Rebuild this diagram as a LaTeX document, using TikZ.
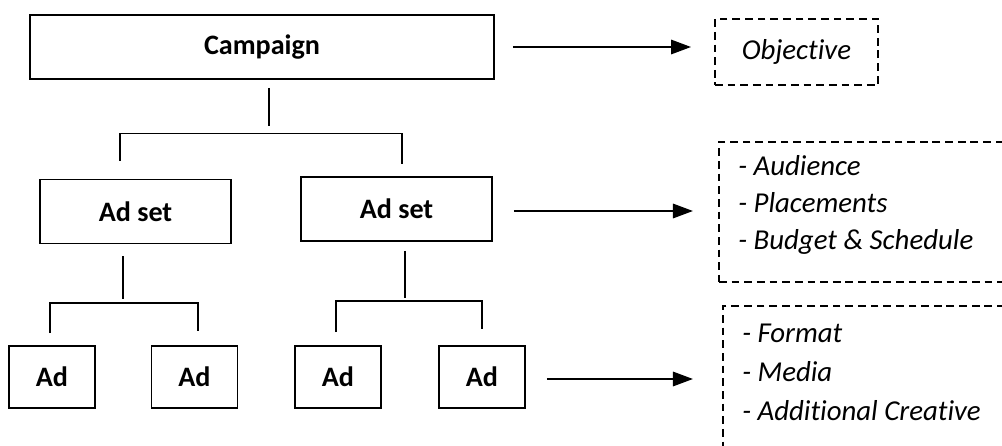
\documentclass[tikz,border=0pt]{standalone}
\usepackage{fontspec}
\setmainfont[Ligatures={NoCommon}]{Carlito}
\usetikzlibrary{arrows.meta}

\tikzset{
  blk/.style={draw, line width=1.3pt, inner sep=0pt, font=\bfseries\fontsize{20}{24}\selectfont},
  adbox/.style={blk, minimum width=2.15cm, minimum height=1.55cm},
  setbox/.style={blk, minimum width=4.775cm, minimum height=1.6cm},
  tree/.style={line width=1.2pt},
  arr/.style={line width=1.3pt, -{Triangle[length=0.5cm,width=0.36cm]}},
  dashbox/.style={draw, dash pattern=on 5.5pt off 3.5pt, line width=1.3pt, inner sep=0pt},
  item/.style={inner sep=0pt, anchor=base west, font=\itshape\fontsize{20.5}{24}\selectfont},
}

\begin{document}
\begin{tikzpicture}[x=0.025cm, y=-0.025cm]
        \useasboundingbox (0,0) rectangle (1002,446);
        \clip (0,0) rectangle (1002,446);
        %
        \node[blk, minimum width=11.6cm, minimum height=1.6cm] (campaign) at (262,47) {Campaign};
        \node[setbox] (setA) at (135.5,211.5) {Ad set};
        \node[setbox] (setB) at (396.5,209) {Ad set};
        %
        \node[adbox] (adA1) at (52,377) {Ad};
        \node[adbox] (adA2) at (194.5,377) {Ad};
        \node[adbox] (adB1) at (338,377) {Ad};
        \node[adbox] (adB2) at (482,377) {Ad};
        %
        \draw[tree] (campaign.south) ++(7,8) -- ++(0,38);
        \draw[tree] (setA.north) ++(-15.5,-18) -- ++(0,-27) -| ([xshift=0.1375cm, yshift=0.3cm]setB.north);
        \draw[tree] (setA.south) ++(-12.5,12) -- ++(0,43);
        \draw[tree] (adA1.north) ++(-2,-12) |- ([xshift=0.0875cm, yshift=1.05cm]adA2.north) -- ++(0,28);
        \draw[tree] (setB.south) ++(8.5,9) -- ++(0,47);
        \draw[tree] (adB1.north) ++(-2,-13) |- ([yshift=1.1cm]adB2.north) -- ++(0,28);
        %
        \node[dashbox, minimum width=4.075cm, minimum height=1.65cm, font=\itshape\fontsize{20.5}{24}\selectfont] (objective) at (796.5,52) {Objective};
        \node[dashbox, anchor=north west, minimum width=7.5cm, minimum height=3.5cm] (audbox) at (718,141) {};
        \node[dashbox, anchor=north west, minimum width=7.5cm, minimum height=3.75cm] (crebox) at (722,305) {};
        %
        \node[item] (aud1) at (738,176) {- Audience};
        \path (aud1.base west) ++(0,37) node[item] (aud2) {- Placements};
        \path (aud2.base west) ++(0,37) node[item] (aud3) {- Budget \& Schedule};
        %
        \node[item] (cre1) at (742,343) {- Format};
        \path (cre1.base west) ++(0,38.5) node[item] (cre2) {- Media};
        \path (cre2.base west) ++(0,38.5) node[item] (cre3) {- Additional Creative};
        %
        \draw[arr, shorten <=0.45cm, shorten >=0.575cm] (campaign.east) -- (campaign.east -| objective.west);
        \draw[arr, shorten <=0.525cm, shorten >=0.625cm] ([yshift=-0.05cm]setB.east) -- ([yshift=-0.05cm]setB.east -| audbox.west);
        \draw[arr, shorten <=0.525cm, shorten >=0.725cm] ([yshift=-0.05cm]adB2.east) -- ([yshift=-0.05cm]adB2.east -| crebox.west);
\end{tikzpicture}
\end{document}
